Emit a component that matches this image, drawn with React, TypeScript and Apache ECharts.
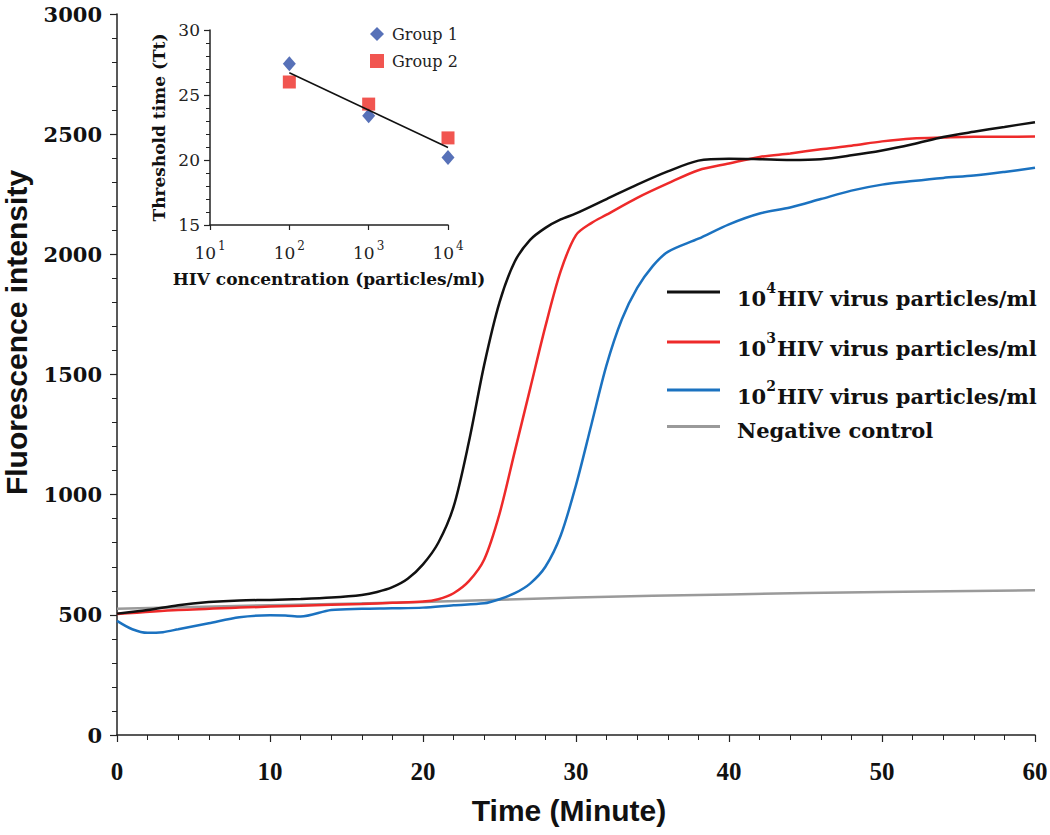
import React, { useEffect, useRef } from "react";
import * as echarts from "echarts";

// ---- Main chart data (Time in minutes, fluorescence intensity) ----
const t1e4 = [0, 2, 4, 6, 8, 10, 12, 14, 16, 17, 18, 19, 20, 21, 22, 23, 24, 25, 26, 27, 28, 29, 30, 32, 34, 36, 38, 40, 42, 44, 46, 48, 50, 52, 54, 56, 58, 60];
const v1e4 = [505, 520, 540, 553, 560, 562, 566, 572, 583, 595, 615, 650, 710, 800, 950, 1220, 1540, 1800, 1970, 2060, 2110, 2145, 2170, 2230, 2290, 2345, 2390, 2398, 2396, 2393, 2396, 2412, 2432, 2458, 2488, 2510, 2530, 2550];

const t1e3 = [0, 4, 8, 12, 16, 18, 20, 21, 22, 23, 24, 25, 26, 27, 28, 29, 30, 31, 32, 34, 36, 38, 40, 42, 44, 46, 48, 50, 52, 54, 56, 58, 60];
const v1e3 = [503, 520, 530, 538, 545, 550, 555, 565, 590, 640, 730, 920, 1180, 1440, 1700, 1930, 2080, 2130, 2165, 2235, 2295, 2350, 2378, 2405, 2420, 2437, 2452, 2470, 2482, 2486, 2489, 2489, 2490];

const t1e2 = [0, 1, 2, 3, 4, 6, 8, 10, 11, 12, 14, 16, 18, 20, 22, 24, 25, 26, 27, 28, 29, 30, 31, 32, 33, 34, 35, 36, 38, 40, 42, 44, 46, 48, 50, 52, 54, 56, 58, 60];
const v1e2 = [475, 440, 425, 428, 440, 465, 490, 498, 497, 493, 520, 525, 527, 530, 540, 548, 565, 590, 630, 700, 830, 1040, 1290, 1540, 1730, 1860, 1950, 2010, 2065, 2125, 2170, 2195, 2230, 2265, 2290, 2305, 2318, 2328, 2343, 2360];

const tNeg = [0, 10, 20, 30, 40, 50, 60];
const vNeg = [525, 540, 553, 572, 585, 595, 602];

const seriesNames = [
  "10^4 HIV virus particles/ml",
  "10^3 HIV virus particles/ml",
  "10^2 HIV virus particles/ml",
  "Negative control",
];

// ---- Inset data ----
const concentrations = [100, 1000, 10000];
const group1Tt = [27.4, 23.4, 20.2];
const group2Tt = [26.0, 24.3, 21.7];
const insetGroups = ["Group 1", "Group 2"];

const zip = (xs: number[], ys: number[]) => xs.map((x, i) => [x, ys[i]]);

function regression() {
  const xs: number[] = [];
  const ys: number[] = [];
  concentrations.forEach((c, i) => {
    xs.push(Math.log10(c));
    ys.push(group1Tt[i]);
    xs.push(Math.log10(c));
    ys.push(group2Tt[i]);
  });
  const n = xs.length;
  const mx = xs.reduce((a, b) => a + b, 0) / n;
  const my = ys.reduce((a, b) => a + b, 0) / n;
  let sxy = 0;
  let sxx = 0;
  for (let i = 0; i < n; i++) {
    sxy += (xs[i] - mx) * (ys[i] - my);
    sxx += (xs[i] - mx) * (xs[i] - mx);
  }
  const b = sxy / sxx;
  const a = my - b * mx;
  const lo = concentrations[0];
  const hi = concentrations[concentrations.length - 1];
  return [
    [lo, a + b * Math.log10(lo)],
    [hi, a + b * Math.log10(hi)],
  ];
}

const SERIF_B = "'DejaVu Serif', serif";
const TIMES = "'Liberation Serif', 'Times New Roman', serif";
const SANS = "'Liberation Sans', Arial, sans-serif";

export default function App() {
  const ref = useRef<HTMLDivElement>(null);

  useEffect(() => {
    document.body.style.margin = "0";
    if (!ref.current) return;
    const chart = echarts.init(ref.current, undefined, { renderer: "svg" });

    const legendRich = {
      s: {
        fontSize: 14,
        fontWeight: "bold",
        fontFamily: SERIF_B,
        color: "#111",
        verticalAlign: "bottom",
        padding: [0, 1, 20, 0],
      },
    };
    const legendFormatter = (name: string) => name.replace(/^10\^(\d) /, "10{s|$1}");
    const legendTops = [281, 331, 379, 420];
    const legendPads = [
      [12, 0, 0, 12],
      [12, 0, 0, 12],
      [12, 0, 0, 12],
      [8, 0, 0, 12],
    ];

    const mainLegends = seriesNames.map((n, i) => ({
      show: true,
      left: 667,
      top: legendTops[i],
      padding: 0,
      orient: "vertical",
      icon: "rect",
      itemWidth: 53,
      itemHeight: 3,
      data: [n],
      formatter: legendFormatter,
      textStyle: {
        fontFamily: SERIF_B,
        fontWeight: "bold",
        fontSize: 21,
        color: "#111",
        padding: legendPads[i],
        rich: legendRich,
      },
    }));

    const insetLegend = {
      show: true,
      left: 370,
      top: 26,
      padding: 0,
      orient: "vertical",
      itemWidth: 14,
      itemHeight: 14,
      itemGap: 11,
      data: [
        { name: insetGroups[0], icon: "diamond" },
        { name: insetGroups[1], icon: "rect" },
      ],
      textStyle: {
        fontFamily: SERIF_B,
        fontSize: 16,
        color: "#222",
        padding: [0, 0, 0, 3],
      },
    };

    const axisLine = { show: true, lineStyle: { color: "#222", width: 1.5 } };

    const option = {
      animation: false,
      backgroundColor: "#fff",
      legend: [...mainLegends, insetLegend],
      grid: [
        { left: 117, top: 14, width: 918, height: 721, containLabel: false, outerBoundsMode: "none" },
        { left: 210, top: 30, width: 238, height: 195, containLabel: false, outerBoundsMode: "none" },
      ],
      xAxis: [
        {
          type: "value",
          gridIndex: 0,
          min: 0,
          max: 60,
          interval: 10,
          axisLine,
          axisTick: { show: true, inside: false, length: 7, lineStyle: { color: "#222", width: 1.2 } },
          minorTick: { show: true, splitNumber: 5, length: 5, lineStyle: { color: "#222", width: 1 } },
          splitLine: { show: false },
          axisLabel: { margin: 24, fontFamily: TIMES, fontWeight: "bold", fontSize: 25, color: "#111" },
          name: "Time (Minute)",
          nameLocation: "middle",
          nameGap: 60,
          nameTextStyle: { fontFamily: SANS, fontWeight: "bold", fontSize: 30, color: "#111", padding: [0, 14, 0, 0] },
        },
        {
          type: "log",
          gridIndex: 1,
          logBase: 10,
          min: 10,
          max: 10000,
          axisLine,
          axisTick: { show: true, inside: false, length: 5, lineStyle: { color: "#222", width: 1.2 } },
          splitLine: { show: false },
          axisLabel: {
            margin: 15,
            fontFamily: SERIF_B,
            fontSize: 17,
            color: "#222",
            formatter: (v: number) => `10{s|${Math.round(Math.log10(v))}}`,
            rich: {
              s: { fontSize: 12, fontFamily: SERIF_B, color: "#222", verticalAlign: "bottom", padding: [0, 0, 13, 2] },
            },
          },
          name: "HIV concentration (particles/ml)",
          nameLocation: "middle",
          nameGap: 45,
          nameTextStyle: { fontFamily: SERIF_B, fontWeight: "bold", fontSize: 17, color: "#111" },
        },
      ],
      yAxis: [
        {
          type: "value",
          gridIndex: 0,
          min: 0,
          max: 3000,
          interval: 500,
          axisLine,
          axisTick: { show: true, inside: false, length: 7, lineStyle: { color: "#222", width: 1.2 } },
          minorTick: { show: true, splitNumber: 5, length: 5, lineStyle: { color: "#222", width: 1 } },
          splitLine: { show: false },
          axisLabel: {
            margin: 15,
            fontFamily: SERIF_B,
            fontWeight: "bold",
            fontSize: 21,
            color: "#111",
            formatter: (v: number) => String(v),
          },
          name: "Fluorescence intensity",
          nameLocation: "middle",
          nameGap: 86,
          nameTextStyle: { fontFamily: SANS, fontWeight: "bold", fontSize: 30, color: "#111", padding: [0, 0, 0, 84] },
        },
        {
          type: "value",
          gridIndex: 1,
          min: 15,
          max: 30,
          interval: 5,
          axisLine,
          axisTick: { show: true, inside: false, length: 6, lineStyle: { color: "#222", width: 1.2 } },
          minorTick: { show: true, splitNumber: 5, length: 4, lineStyle: { color: "#222", width: 1 } },
          splitLine: { show: false },
          axisLabel: { margin: 10, fontFamily: SERIF_B, fontSize: 17, color: "#222" },
          name: "Threshold time (Tt)",
          nameLocation: "middle",
          nameGap: 43,
          nameTextStyle: { fontFamily: SERIF_B, fontWeight: "bold", fontSize: 17, color: "#111" },
        },
      ],
      series: [
        {
          name: seriesNames[3],
          type: "line",
          xAxisIndex: 0,
          yAxisIndex: 0,
          data: zip(tNeg, vNeg),
          symbol: "none",
          smooth: 0.3,
          color: "#9a9a9a",
          lineStyle: { color: "#9a9a9a", width: 2.5 },
          z: 2,
        },
        {
          name: seriesNames[2],
          type: "line",
          xAxisIndex: 0,
          yAxisIndex: 0,
          data: zip(t1e2, v1e2),
          symbol: "none",
          smooth: 0.3,
          color: "#1b72c0",
          lineStyle: { color: "#1b72c0", width: 2.5 },
          z: 3,
        },
        {
          name: seriesNames[1],
          type: "line",
          xAxisIndex: 0,
          yAxisIndex: 0,
          data: zip(t1e3, v1e3),
          symbol: "none",
          smooth: 0.3,
          color: "#ee2a2a",
          lineStyle: { color: "#ee2a2a", width: 2.5 },
          z: 4,
        },
        {
          name: seriesNames[0],
          type: "line",
          xAxisIndex: 0,
          yAxisIndex: 0,
          data: zip(t1e4, v1e4),
          symbol: "none",
          smooth: 0.3,
          color: "#111",
          lineStyle: { color: "#111", width: 2.5 },
          z: 5,
        },
        {
          name: insetGroups[0],
          type: "scatter",
          xAxisIndex: 1,
          yAxisIndex: 1,
          data: zip(concentrations, group1Tt),
          symbol: "diamond",
          symbolSize: [13, 15],
          itemStyle: { color: "#2d4ea6" },
          z: 5,
        },
        {
          name: insetGroups[1],
          type: "scatter",
          xAxisIndex: 1,
          yAxisIndex: 1,
          data: zip(concentrations, group2Tt),
          symbol: "rect",
          symbolSize: 13,
          itemStyle: { color: "#ee2a24" },
          z: 5,
        },
        {
          name: "Trend",
          type: "line",
          xAxisIndex: 1,
          yAxisIndex: 1,
          data: regression(),
          symbol: "none",
          lineStyle: { color: "#111", width: 1.5 },
          z: 6,
        },
      ],
    };

    chart.setOption(option as any);
    return () => chart.dispose();
  }, []);

  return <div ref={ref} style={{ width: 1050, height: 835 }} />;
}
